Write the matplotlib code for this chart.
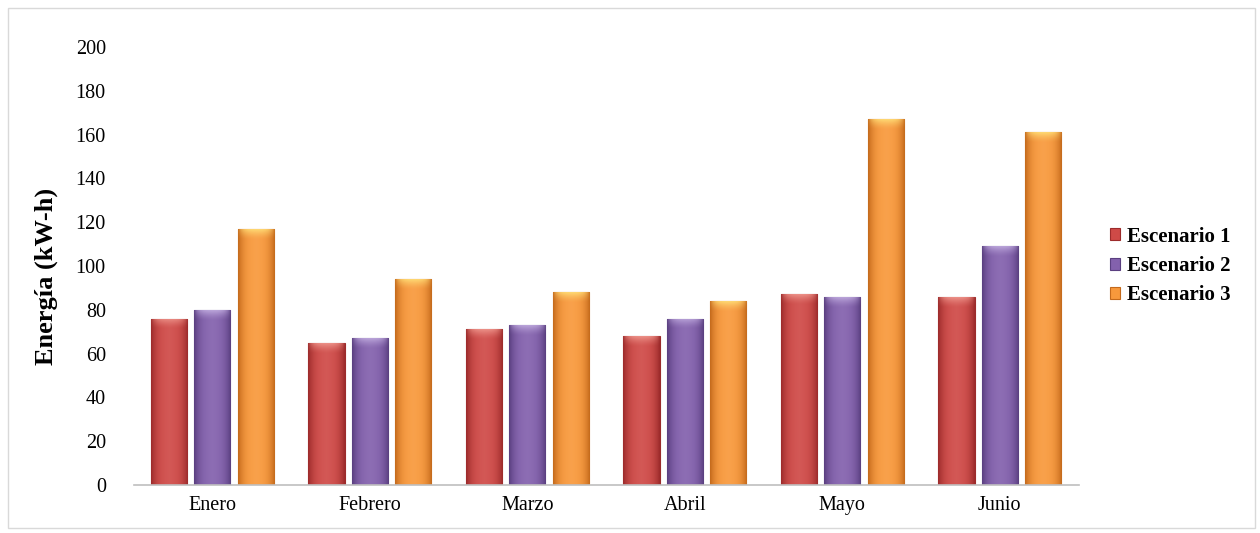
import numpy as np
import matplotlib.pyplot as plt
from matplotlib.patches import Rectangle
from matplotlib.colors import to_rgb

plt.rcParams['font.family'] = ['Liberation Serif', 'DejaVu Serif']

meses = ['Enero', 'Febrero', 'Marzo', 'Abril', 'Mayo', 'Junio']
escenario1 = [76, 65, 71, 68, 87, 86]
escenario2 = [80, 67, 73, 76, 86, 109]
escenario3 = [117, 94, 88, 84, 167, 161]

series = [('Escenario 1', escenario1, '#cf4a47', '#9c2b2b', '#f09a90'),
          ('Escenario 2', escenario2, '#8361ad', '#5a3f80', '#c2aee0'),
          ('Escenario 3', escenario3, '#f8993c', '#c46a1c', '#ffe27a')]

fig = plt.figure(figsize=(12.6, 5.33), dpi=100)
ax = fig.add_axes([0.106, 0.09, 0.75, 0.822])

x = np.arange(len(meses))
width = 0.23
step = 0.275


def shade(bar, base, dark, glow):
    # horizontal gradient: dark edges, lighter middle
    b = np.array(to_rgb(base))
    d = np.array(to_rgb(dark))
    g = np.array(to_rgb(glow))
    t = np.linspace(-1, 1, 64)
    w = np.abs(t) ** 3
    img = (1 - w)[:, None] * b + w[:, None] * d
    img = img + (1 - img) * (0.08 * (1 - np.abs(t)))[:, None]
    img = img[None, :, :]
    x0, y0 = bar.get_x(), bar.get_y()
    bw, bh = bar.get_width(), bar.get_height()
    im = ax.imshow(img, extent=[x0, x0 + bw, y0, y0 + bh],
                   aspect='auto', zorder=2, interpolation='bilinear')
    im.set_clip_path(bar)
    # soft glow at the top of the bar
    v = np.linspace(1, 0, 16)
    top = np.zeros((16, 64, 4))
    top[:, :, :3] = g
    top[:, :, 3] = (v ** 1.5)[:, None] * 0.85 * (1 - w * 0.9)[None, :]
    h = 5.0
    im2 = ax.imshow(top, extent=[x0, x0 + bw, y0 + bh - h, y0 + bh],
                    aspect='auto', zorder=3, interpolation='bilinear')
    im2.set_clip_path(bar)


for i, (name, vals, col, dark, glow) in enumerate(series):
    bars = ax.bar(x + (i - 1) * step, vals, width, color=col, edgecolor=dark,
                  linewidth=0.8, label=name, zorder=1)
    for bar in bars:
        shade(bar, col, dark, glow)

ax.set_xlim(-0.5, len(meses) - 0.5)
ax.set_ylim(0, 200)
ax.set_yticks(np.arange(0, 201, 20))
ax.set_xticks(x)
ax.set_xticklabels(meses, fontsize=14.5)
ax.tick_params(axis='y', labelsize=14.5, length=0, pad=20)
ax.tick_params(axis='x', length=0, pad=8)

for s in ['top', 'right', 'left']:
    ax.spines[s].set_visible(False)
ax.spines['bottom'].set_color('#bfbfbf')
ax.spines['bottom'].set_linewidth(1.2)

ax.set_ylabel('Energía (kW-h)', fontsize=19, fontweight='bold')
ax.yaxis.set_label_coords(-0.08, 0.475)

leg = ax.legend(loc='center left', bbox_to_anchor=(1.013, 0.5), frameon=False,
                prop={'weight': 'bold', 'size': 15}, handlelength=0.5,
                handleheight=0.5, handletextpad=0.35, labelspacing=0.45)

fig.patches.append(Rectangle((0.006, 0.01), 0.99, 0.975, transform=fig.transFigure,
                             fill=False, edgecolor='#d9d9d9', linewidth=1))

fig.savefig('out.png', dpi=100)
